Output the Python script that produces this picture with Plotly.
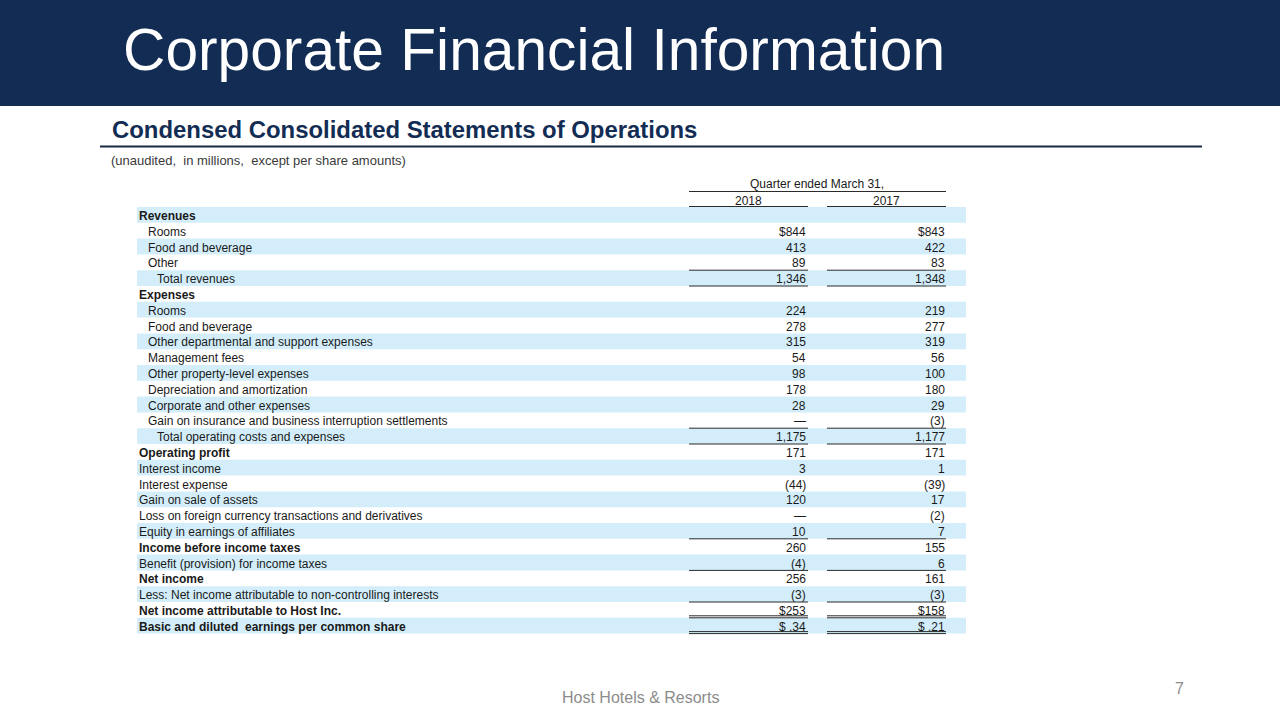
import plotly.graph_objects as go

# ---------------- data ----------------
row_labels = [
    "Revenues", "Rooms", "Food and beverage", "Other", "Total revenues",
    "Expenses", "Rooms", "Food and beverage", "Other departmental and support expenses",
    "Management fees", "Other property-level expenses", "Depreciation and amortization",
    "Corporate and other expenses", "Gain on insurance and business interruption settlements",
    "Total operating costs and expenses", "Operating profit", "Interest income",
    "Interest expense", "Gain on sale of assets",
    "Loss on foreign currency transactions and derivatives",
    "Equity in earnings of affiliates", "Income before income taxes",
    "Benefit (provision) for income taxes", "Net income",
    "Less: Net income attributable to non-controlling interests",
    "Net income attributable to Host Inc.", "Basic and diluted  earnings per common share",
]
row_indent = [0, 1, 1, 1, 2, 0, 1, 1, 1, 1, 1, 1, 1, 1, 2, 0, 0, 0, 0, 0, 0, 0, 0, 0, 0, 0, 0]
row_bold = [1, 0, 0, 0, 0, 1, 0, 0, 0, 0, 0, 0, 0, 0, 0, 1, 0, 0, 0, 0, 0, 1, 0, 1, 0, 1, 1]
values_2018 = ["", "$844", "413", "89", "1,346", "", "224", "278", "315", "54", "98", "178",
               "28", "\u2014", "1,175", "171", "3", "(44)", "120", "\u2014", "10", "260",
               "(4)", "256", "(3)", "$253", "$ .34"]
values_2017 = ["", "$843", "422", "83", "1,348", "", "219", "277", "319", "56", "100", "180",
               "29", "(3)", "1,177", "171", "1", "(39)", "17", "(2)", "7", "155",
               "6", "161", "(3)", "$158", "$ .21"]
# underline style below each row: "" none, "s" single, "d" double
row_underline = ["", "", "", "s", "s", "", "", "", "", "", "", "", "", "s", "s", "", "", "",
                 "", "", "s", "", "s", "", "s", "d", "d"]
column_years = ["2018", "2017"]
header_text = "Quarter ended March 31,"

# ---------------- styling / layout ----------------
NAVY = "#132c54"
BAND = "#d3eefa"
TXT = "#1a1a1a"
LINE = "#2b2b2b"
FONT = "Liberation Sans, Arial, sans-serif"
FS = 12

top = 207.0
rh = 15.8
band_x0, band_x1 = 137, 966
label_x = [137.5, 146.5, 155.5]
col_right = [807, 946]
col_x0 = [689, 827]
col_x1 = [808, 946]

fig = go.Figure()
fig.add_trace(go.Scatter(x=[0, 1280], y=[0, 720], mode="markers",
                         marker=dict(opacity=0), hoverinfo="skip", showlegend=False))

shapes = []
ann = []

# header band
shapes.append(dict(type="rect", x0=0, x1=1280, y0=0, y1=106, fillcolor=NAVY,
                   line=dict(width=0), layer="below"))
ann.append(dict(x=121, y=49.5, text="Corporate Financial Information", showarrow=False,
                xanchor="left", yanchor="middle",
                font=dict(family=FONT, size=58.7, color="white")))
# subtitle + rule
ann.append(dict(x=109.5, y=129.5, text="<b>Condensed Consolidated Statements of Operations</b>",
                showarrow=False, xanchor="left", yanchor="middle",
                font=dict(family=FONT, size=23.9, color=NAVY)))
shapes.append(dict(type="line", x0=100, x1=1202, y0=146.5, y1=146.5,
                   line=dict(color="#1b2a44", width=2)))
ann.append(dict(x=109, y=160, text="(unaudited,  in millions,  except per share amounts)",
                showarrow=False, xanchor="left", yanchor="middle",
                font=dict(family=FONT, size=13, color="#3a3a3a")))

# column header
ann.append(dict(x=817, y=184, text=header_text, showarrow=False, xanchor="center",
                yanchor="middle", font=dict(family=FONT, size=FS, color=TXT)))
shapes.append(dict(type="line", x0=689, x1=946, y0=191.5, y1=191.5,
                   line=dict(color=LINE, width=1)))
for j, yr in enumerate(column_years):
    ann.append(dict(x=(col_x0[j] + col_x1[j]) / 2, y=200.5, text=yr, showarrow=False,
                    xanchor="center", yanchor="middle",
                    font=dict(family=FONT, size=FS, color=TXT)))
    shapes.append(dict(type="line", x0=col_x0[j], x1=col_x1[j], y0=206.5, y1=206.5,
                       line=dict(color=LINE, width=1)))

# rows
for i, lab in enumerate(row_labels):
    y0 = top + i * rh
    yc = y0 + rh / 2 + 1.0
    if i % 2 == 0:
        shapes.append(dict(type="rect", x0=band_x0, x1=band_x1, y0=y0, y1=y0 + rh,
                           fillcolor=BAND, line=dict(width=0), layer="below"))
    txt = f"<b>{lab}</b>" if row_bold[i] else lab
    ann.append(dict(x=label_x[row_indent[i]], y=yc, text=txt, showarrow=False,
                    xanchor="left", yanchor="middle", borderpad=0,
                    font=dict(family=FONT, size=FS, color=TXT)))
    for j, vals in enumerate([values_2018, values_2017]):
        if vals[i]:
            ann.append(dict(x=col_right[j], y=yc, text=vals[i], showarrow=False,
                            xanchor="right", yanchor="middle", borderpad=0,
                            font=dict(family=FONT, size=FS, color=TXT)))
    yb = y0 + rh
    for j in range(2):
        if row_underline[i] == "s":
            shapes.append(dict(type="line", x0=col_x0[j], x1=col_x1[j], y0=yb, y1=yb,
                               line=dict(color=LINE, width=1)))
        elif row_underline[i] == "d":
            for yy in (yb - 2, yb):
                shapes.append(dict(type="line", x0=col_x0[j], x1=col_x1[j], y0=yy, y1=yy,
                                   line=dict(color=LINE, width=1)))

# footer
ann.append(dict(x=640, y=697, text="Host Hotels & Resorts", showarrow=False,
                xanchor="center", yanchor="middle",
                font=dict(family=FONT, size=16, color="#8c8c8c")))
ann.append(dict(x=1179, y=688, text="7", showarrow=False, xanchor="center",
                yanchor="middle", font=dict(family=FONT, size=16, color="#8c8c8c")))

fig.update_layout(
    width=1280, height=720, margin=dict(l=0, r=0, t=0, b=0),
    paper_bgcolor="white", plot_bgcolor="white",
    xaxis=dict(range=[0, 1280], visible=False, fixedrange=True),
    yaxis=dict(range=[720, 0], visible=False, fixedrange=True),
    shapes=shapes, annotations=ann, showlegend=False,
)
fig.write_html("out.html", config={"displayModeBar": False},
               post_script="document.body.style.margin='0';document.body.style.overflow='hidden';")
